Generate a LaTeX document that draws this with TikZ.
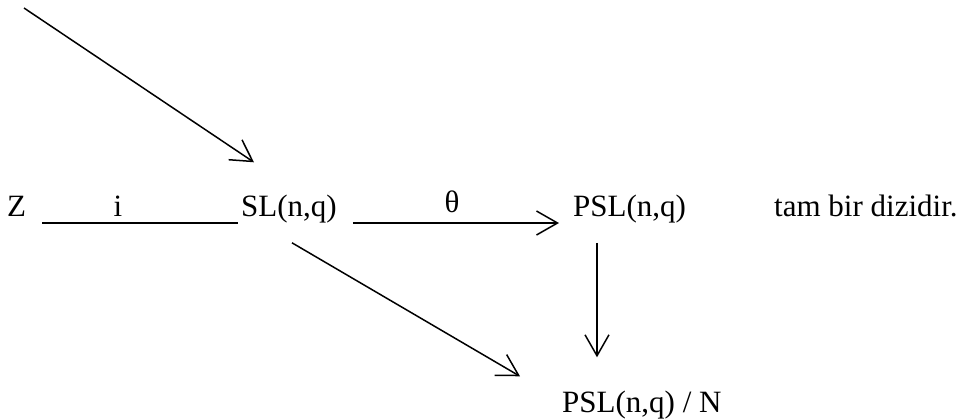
\documentclass[tikz,border=0pt]{standalone}
\usepackage{fontspec}
\setmainfont{Liberation Serif}
\usetikzlibrary{arrows.meta}
\begin{document}
\begin{tikzpicture}[x=1pt,y=-1pt,
  lbl/.style={anchor=base west, inner sep=0pt, font=\fontsize{31}{37}\selectfont},
  mlbl/.style={anchor=base, inner sep=0pt, font=\fontsize{31}{37}\selectfont},
  ln/.style={line width=1.5pt},
  arr/.style={line width=1.5pt, -{Straight Barb[length=21pt,width=24pt,line width=1.5pt]}}]
\useasboundingbox (0,0) rectangle (966,418);
% objects of the sequence
\node[lbl] (z)   at (7,216)   {Z};
\node[lbl] (sl)  at (241,216) {SL(n,q)};
\node[lbl] (psl) at (573,216) {PSL(n,q)};
\node[lbl] (txt) at (774,216) {tam bir dizidir.};
\node[lbl] (pn)  at (562,412) {PSL(n,q) / N};
% map labels
\node[mlbl] (li) at (118,216) {i};
\node[mlbl] (lt) at (452,212) {θ};
% incoming map from the upper left
\coordinate (src) at (24,8);
\draw[arr] (src) -- ([shift={(13,-32)}]sl.north west);
% inclusion and quotient maps
\draw[ln]  ([shift={(16,7)}]z.base east) -- ([shift={(-3,7)}]sl.base west);
\draw[arr] ([shift={(16,7)}]sl.base east) -- ([shift={(-14,7)}]psl.base west);
\draw[arr] ([shift={(24,20)}]psl.south west) -- ([shift={(35,-33)}]pn.north west);
\draw[arr] ([shift={(51,20)}]sl.south west) -- ([shift={(-42,-14)}]pn.north west);
\end{tikzpicture}
\end{document}
